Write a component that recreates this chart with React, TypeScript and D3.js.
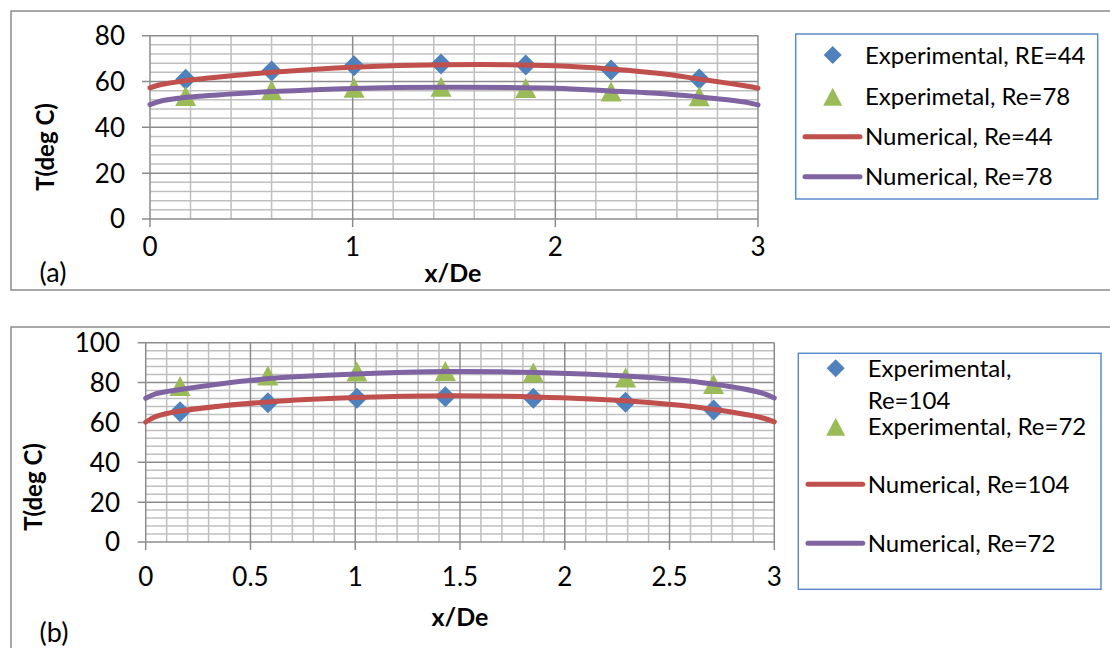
import React from "react";
import * as d3 from "d3";

// ---------- Data ----------
// Panel (a)
const expXA = [0.176, 0.6, 1.007, 1.436, 1.854, 2.275, 2.71];
const expA_Re44 = [61.0, 64.6, 66.9, 67.7, 67.2, 65.0, 61.1];
const expA_Re78 = [53.7, 56.3, 57.3, 57.7, 57.2, 55.6, 53.6];
const numXA = [0, 0.05, 0.17, 0.39, 0.6, 1.0, 1.45, 2.0, 2.27, 2.55, 2.7, 2.85, 2.95, 3.0];
const numA_Re44 = [57.2, 58.6, 60.3, 62.4, 64.0, 66.2, 67.3, 66.9, 65.5, 63.2, 61.2, 59.3, 57.9, 57.1];
const numA_Re78 = [49.9, 51.4, 53.0, 54.5, 55.6, 57.0, 57.5, 57.1, 55.9, 54.6, 53.4, 52.0, 50.8, 49.8];
const xTicksA = [0, 1, 2, 3];
const yTicksA = [0, 20, 40, 60, 80];

// Panel (b)
const expXB = [0.164, 0.583, 1.008, 1.43, 1.85, 2.29, 2.71];
const expB_Re104 = [65.4, 69.9, 72.1, 72.9, 72.1, 70.1, 66.2];
const expB_Re72 = [78.3, 83.5, 85.5, 85.8, 85.0, 82.6, 79.3];
const numXB = [0, 0.05, 0.164, 0.586, 1.0, 1.45, 1.86, 2.29, 2.55, 2.7, 2.85, 2.95, 3.0];
const numB_Re104 = [60.2, 63.0, 65.7, 70.3, 72.5, 73.4, 72.8, 70.9, 68.6, 66.7, 64.2, 62.1, 60.3];
const numB_Re72 = [72.1, 74.4, 76.5, 82.0, 84.3, 85.5, 85.0, 83.3, 81.3, 79.4, 76.9, 74.5, 72.3];
const xTicksB = [0, 0.5, 1, 1.5, 2, 2.5, 3];
const yTicksB = [0, 20, 40, 60, 80, 100];

const BLUE = "#4F81BD";
const GREEN = "#9BBB59";
const RED = "#C0504D";
const PURPLE = "#8064A2";
const FONT = "Lato, 'Open Sans', sans-serif";

function Diamond({ cx, cy, r = 10.5 }: { cx: number; cy: number; r?: number }) {
  return <path d={`M${cx},${cy - r}L${cx + r},${cy}L${cx},${cy + r}L${cx - r},${cy}Z`} fill={BLUE} />;
}
function Triangle({ cx, cy, w = 21, h = 20 }: { cx: number; cy: number; w?: number; h?: number }) {
  return <path d={`M${cx},${cy - h / 2}L${cx + w / 2},${cy + h / 2}L${cx - w / 2},${cy + h / 2}Z`} fill={GREEN} />;
}

type PanelProps = {
  left: number; right: number; top: number; bottom: number;
  yMax: number; xMinor: number; xTicks: number[]; yTicks: number[];
  expX: number[]; expD: number[]; expT: number[];
  numX: number[]; numR: number[]; numP: number[];
  yLabelRight: number; xLabelY: number;
  xTitle: [number, number]; yTitle: [number, number];
  tag: string; tagPos: [number, number];
};

function Panel(p: PanelProps) {
  const x = d3.scaleLinear().domain([0, 3]).range([p.left, p.right]);
  const y = d3.scaleLinear().domain([0, p.yMax]).range([p.bottom, p.top]);
  const xMinorTicks = d3.range(0, 3 + 1e-9, p.xMinor).filter((v) => !p.xTicks.some((t) => Math.abs(t - v) < 1e-6));
  const yMinorTicks = d3.range(0, p.yMax + 1e-9, 4).filter((v) => !p.yTicks.some((t) => Math.abs(t - v) < 1e-6));
  const mk = (xs: number[], ys: number[]) =>
    d3
      .line<[number, number]>()
      .x((d) => x(d[0]))
      .y((d) => y(d[1]))
      .curve(d3.curveCatmullRom.alpha(0.5))(xs.map((v, i) => [v, ys[i]]) as [number, number][]) || "";
  return (
    <g fontFamily={FONT}>
      {/* minor grid */}
      {xMinorTicks.map((v) => (
        <line key={"xm" + v} x1={x(v)} x2={x(v)} y1={p.top} y2={p.bottom} stroke="#BFBFBF" strokeWidth={1.5} />
      ))}
      {yMinorTicks.map((v) => (
        <line key={"ym" + v} x1={p.left} x2={p.right} y1={y(v)} y2={y(v)} stroke="#BFBFBF" strokeWidth={1.5} />
      ))}
      {/* major grid */}
      {p.xTicks.map((v) => (
        <line key={"xM" + v} x1={x(v)} x2={x(v)} y1={p.top} y2={p.bottom + 8} stroke="#8C8C8C" strokeWidth={1.5} />
      ))}
      {p.yTicks.map((v) => (
        <line key={"yM" + v} x1={p.left - 8} x2={p.right} y1={y(v)} y2={y(v)} stroke="#8C8C8C" strokeWidth={1.5} />
      ))}
      {/* tick labels */}
      {p.yTicks.map((v) => (
        <text key={"yl" + v} x={p.yLabelRight} y={y(v)} dy="0.36em" textAnchor="end" fontSize={26} fill="#000">
          {v}
        </text>
      ))}
      {p.xTicks.map((v) => (
        <text key={"xl" + v} x={x(v)} y={p.xLabelY} dy="0.36em" textAnchor="middle" fontSize={26} fill="#000">
          {String(v)}
        </text>
      ))}
      {/* markers */}
      {p.expX.map((v, i) => (
        <Diamond key={"d" + i} cx={x(v)} cy={y(p.expD[i])} />
      ))}
      {p.expX.map((v, i) => (
        <Triangle key={"t" + i} cx={x(v)} cy={y(p.expT[i])} />
      ))}
      {/* numerical lines */}
      <path d={mk(p.numX, p.numR)} fill="none" stroke={RED} strokeWidth={5} strokeLinecap="round" />
      <path d={mk(p.numX, p.numP)} fill="none" stroke={PURPLE} strokeWidth={5} strokeLinecap="round" />
      {/* titles */}
      <text x={p.xTitle[0]} y={p.xTitle[1]} dy="0.36em" textAnchor="middle" fontSize={25} fontWeight="bold">
        x/De
      </text>
      <text
        transform={`translate(${p.yTitle[0]},${p.yTitle[1]}) rotate(-90)`}
        dy="0.36em"
        textAnchor="middle"
        fontSize={24}
        fontWeight="bold"
      >
        T(deg C)
      </text>
      <text x={p.tagPos[0]} y={p.tagPos[1]} dy="0.36em" textAnchor="middle" fontSize={27}>
        {p.tag}
      </text>
    </g>
  );
}

export default function App() {
  return (
    <svg
      width={1110}
      height={648}
      style={{ position: "absolute", left: 0, top: 0, background: "#fff" }}
      fontFamily={FONT}
    >
      <rect x={0} y={0} width={1110} height={648} fill="#fff" />
      {/* chart frames */}
      <rect x={11} y={11} width={1110} height={279} fill="none" stroke="#8C8C8C" strokeWidth={1.5} />
      <rect x={11} y={327} width={1110} height={400} fill="none" stroke="#8C8C8C" strokeWidth={1.5} />

      <Panel
        left={150}
        right={758}
        top={35.7}
        bottom={219}
        yMax={80}
        xMinor={0.2}
        xTicks={xTicksA}
        yTicks={yTicksA}
        expX={expXA}
        expD={expA_Re44}
        expT={expA_Re78}
        numX={numXA}
        numR={numA_Re44}
        numP={numA_Re78}
        yLabelRight={125}
        xLabelY={247}
        xTitle={[453, 273]}
        yTitle={[45, 147]}
        tag="(a)"
        tagPos={[53, 272]}
      />
      <Panel
        left={145.7}
        right={774.3}
        top={342.7}
        bottom={542}
        yMax={100}
        xMinor={0.1}
        xTicks={xTicksB}
        yTicks={yTicksB}
        expX={expXB}
        expD={expB_Re104}
        expT={expB_Re72}
        numX={numXB}
        numR={numB_Re104}
        numP={numB_Re72}
        yLabelRight={120}
        xLabelY={577}
        xTitle={[460, 617]}
        yTitle={[33, 487]}
        tag="(b)"
        tagPos={[54, 632]}
      />

      {/* legend (a) */}
      <g fontFamily={FONT} fontSize={24}>
        <rect x={795.7} y={34} width={302} height={165} fill="#fff" stroke="#5B8CCB" strokeWidth={1.5} />
        <Diamond cx={832.7} cy={55} r={9} />
        <text x={865} y={55} dy="0.36em">Experimental, RE=44</text>
        <Triangle cx={832.7} cy={96.7} w={19} h={18} />
        <text x={865} y={96.7} dy="0.36em">Experimetal, Re=78</text>
        <line x1={805} x2={860} y1={136.7} y2={136.7} stroke={RED} strokeWidth={5} strokeLinecap="round" />
        <text x={865} y={136.7} dy="0.36em">Numerical, Re=44</text>
        <line x1={805} x2={860} y1={176.7} y2={176.7} stroke={PURPLE} strokeWidth={5} strokeLinecap="round" />
        <text x={865} y={176.7} dy="0.36em">Numerical, Re=78</text>
      </g>

      {/* legend (b) */}
      <g fontFamily={FONT} fontSize={24}>
        <rect x={798.3} y={353.3} width={302.7} height={236} fill="#fff" stroke="#5B8CCB" strokeWidth={1.5} />
        <Diamond cx={835.7} cy={368.3} r={9} />
        <text x={867.7} y={368.3} dy="0.36em">Experimental,</text>
        <text x={867.7} y={400} dy="0.36em">Re=104</text>
        <Triangle cx={835.7} cy={426.7} w={19} h={18} />
        <text x={867.7} y={426.7} dy="0.36em">Experimental, Re=72</text>
        <line x1={808} x2={862.7} y1={484.3} y2={484.3} stroke={RED} strokeWidth={5} strokeLinecap="round" />
        <text x={867.7} y={484.3} dy="0.36em">Numerical, Re=104</text>
        <line x1={808} x2={862.7} y1={543.3} y2={543.3} stroke={PURPLE} strokeWidth={5} strokeLinecap="round" />
        <text x={867.7} y={543.3} dy="0.36em">Numerical, Re=72</text>
      </g>
    </svg>
  );
}
